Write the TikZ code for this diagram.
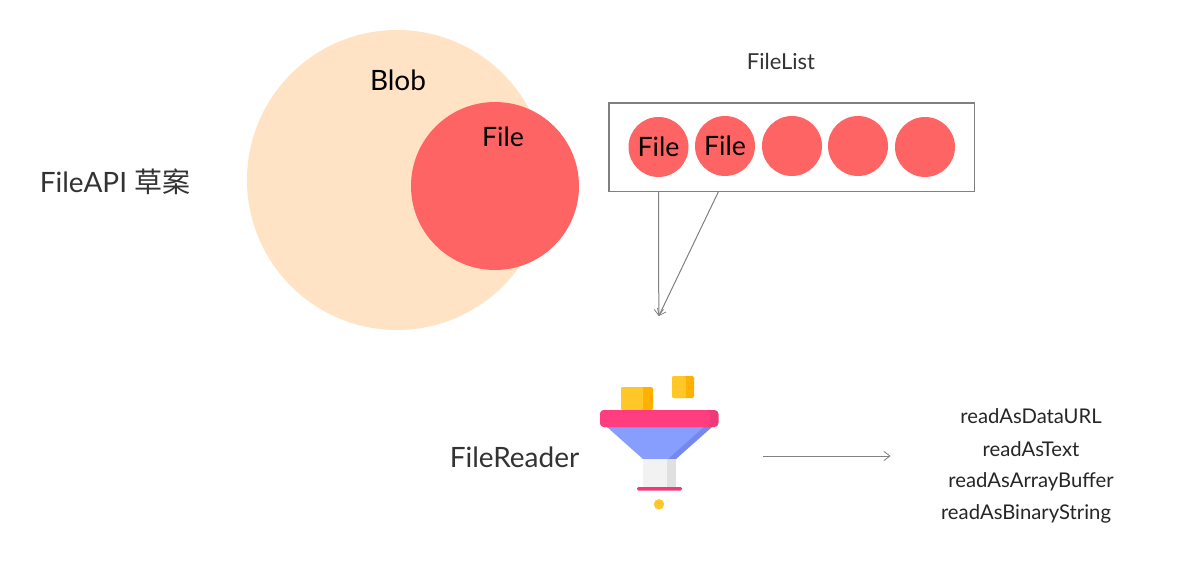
\documentclass[tikz,border=0pt]{standalone}
\usepackage{fontspec}
\setmainfont{Lato}
\newfontfamily\cjk{Noto Sans CJK SC}
\usetikzlibrary{arrows.meta}
\definecolor{coral}{HTML}{FF6464}
\definecolor{peach}{HTML}{FFE3C4}
\definecolor{lineg}{HTML}{808080}
\definecolor{txtg}{HTML}{333333}
\definecolor{ybox}{HTML}{FFC727}
\definecolor{ydark}{HTML}{FFB000}
\definecolor{pinkb}{HTML}{FF3D7F}
\definecolor{pinkd}{HTML}{EE3A77}
\definecolor{blueb}{HTML}{879EFF}
\definecolor{blued}{HTML}{7488EE}
\tikzset{
  x=0.75pt,y=-0.75pt,
  ball/.style={circle,fill=coral,minimum size=45pt,inner sep=0pt,text=black,font=\fontsize{20}{24}\selectfont},
  arrowline/.style={draw=lineg,line width=0.75pt,-{Straight Barb[length=4.5pt,width=7pt,line width=0.6pt]}},
  lbl/.style={inner sep=0pt,anchor=center,text=txtg},
  method/.style={lbl,text=black!85,font=\fontsize{15.2}{18}\selectfont},
}
\begin{document}
\begin{tikzpicture}
\useasboundingbox (0,0) rectangle (1200,571);
\fill[white] (0,0) rectangle (1200,571);
% Venn
\node[circle,fill=peach,minimum size=225pt,inner sep=0pt] (blob) at (397,180) {};
\node[circle,fill=coral,minimum size=126pt,inner sep=0pt] (file) at (495,186) {};
\node[lbl,text=black,font=\fontsize{21}{25}\selectfont] (blobt) at (398,80) {Blob};
\node[lbl,text=black,font=\fontsize{20}{24}\selectfont] (filet) at (503,137) {File};
\node[lbl,font=\fontsize{21}{25}\selectfont] (api) at (115,182) {FileAPI {\cjk 草案}};
% FileList
\node[lbl,font=\fontsize{16.5}{20}\selectfont] (flt) at (781,61) {FileList};
\node[draw=lineg,line width=0.9pt,minimum width=274pt,minimum height=66.4pt,inner sep=0pt] (flist) at (791.7,147.2) {};
\node[ball] (b1) at (658.5,147) {File};
\node[ball] (b2) at (725,146) {File};
\node[ball] (b3) at (792,146) {};
\node[ball] (b4) at (858,146) {};
\node[ball] (b5) at (925,147) {};
\coordinate (s1) at (flist.south -| b1);
\coordinate (s2) at (718.5,191.5);
\coordinate (t1) at (658.8,316);
\draw[arrowline] (s1) -- (t1);
\draw[arrowline] (s2) -- (t1);
% Funnel
\fill[ydark,rounded corners=1.5pt] (621,410) -- (621,387) -- (653,387) -- (653,410) -- cycle;
\fill[ybox,rounded corners=1.5pt] (621,410) -- (621,387) -- (643,387) -- (643,410) -- cycle;
\fill[ydark,rounded corners=1.5pt] (672,376) rectangle (694,398);
\fill[ybox,rounded corners=1.5pt] (672,376) rectangle (686,398);
\fill[blueb] (607,427) -- (712,427) -- (668,459) -- (643,459) -- cycle;
\fill[blued] (704,427) -- (712,427) -- (676,459) -- (668,459) -- cycle;
\fill[black!5] (643,459) rectangle (667,487);
\fill[black!12] (667,459) rectangle (676,487);
\fill[pinkd,rounded corners=1pt] (637,487) rectangle (682,490.5);
\fill[pinkd,rounded corners=3pt] (600,410) rectangle (718.5,427);
\fill[pinkb,rounded corners=3pt] (600,410) -- (710,410) -- (710,427) -- (600,427) -- cycle;
\node[circle,fill=ybox,minimum size=7.8pt,inner sep=0pt] (dot) at (659,504.3) {};
\node[lbl,font=\fontsize{21}{25}\selectfont] (reader) at (514.5,457) {FileReader};
\coordinate (a0) at (763,456);
\coordinate (a1) at (890.5,456);
\draw[arrowline] (a0) -- (a1);
\node[method] (m1) at (1031,416) {readAsDataURL};
\node[method] (m2) at (1031,449) {readAsText};
\node[method] (m3) at (1031,482) {readAsArrayBuffer};
\node[method] (m4) at (1026,514) {readAsBinaryString};
\end{tikzpicture}
\end{document}
